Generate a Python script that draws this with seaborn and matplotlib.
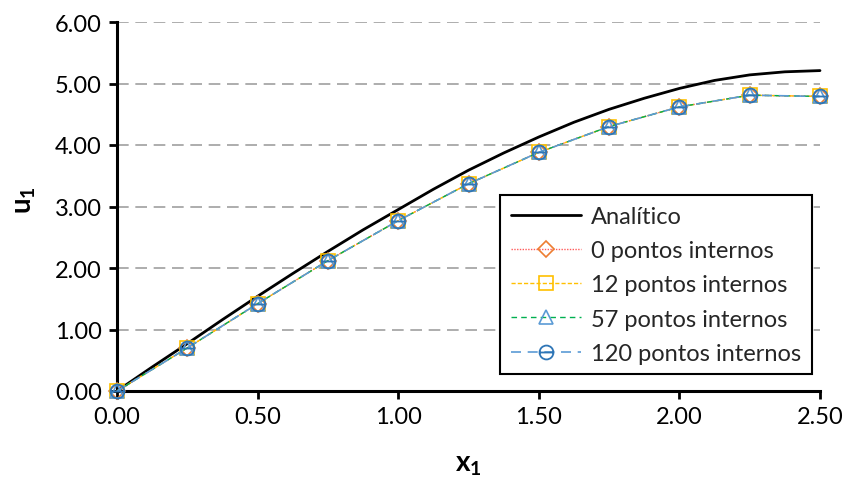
import numpy as np
import pandas as pd
import matplotlib
matplotlib.use("Agg")
import matplotlib.pyplot as plt
from matplotlib.path import Path
import seaborn as sns

# ---- data ----
x_analitico = [0.0, 0.125, 0.25, 0.375, 0.5, 0.625, 0.75, 0.875, 1.0, 1.125,
               1.25, 1.375, 1.5, 1.625, 1.75, 1.875, 2.0, 2.125, 2.25, 2.375, 2.5]
u_analitico = [0.0, 0.39, 0.77, 1.16, 1.54, 1.91, 2.27, 2.62, 2.95, 3.28,
               3.59, 3.87, 4.13, 4.37, 4.58, 4.76, 4.92, 5.05, 5.14, 5.19, 5.21]
x_vals = [0.0, 0.25, 0.5, 0.75, 1.0, 1.25, 1.5, 1.75, 2.0, 2.25, 2.5]
u_0 = [0.0, 0.70, 1.42, 2.12, 2.77, 3.37, 3.88, 4.30, 4.62, 4.81, 4.79]
u_12 = [0.0, 0.70, 1.42, 2.12, 2.77, 3.37, 3.88, 4.30, 4.62, 4.81, 4.79]
u_57 = [0.0, 0.70, 1.42, 2.12, 2.77, 3.37, 3.88, 4.30, 4.62, 4.81, 4.79]
u_120 = [0.0, 0.70, 1.42, 2.12, 2.77, 3.37, 3.88, 4.30, 4.62, 4.81, 4.79]
labels = ["Analítico", "0 pontos internos", "12 pontos internos",
          "57 pontos internos", "120 pontos internos"]
x_ticks = [0.0, 0.5, 1.0, 1.5, 2.0, 2.5]
y_ticks = [0, 1, 2, 3, 4, 5, 6]

sns.set_theme(style="white")
plt.rcParams["font.family"] = ["Lato", "DejaVu Sans"]
plt.rcParams["mathtext.fontset"] = "custom"
plt.rcParams["mathtext.rm"] = "Lato"
plt.rcParams["mathtext.bf"] = "Lato:bold"

fig = plt.figure(figsize=(8.45, 4.89), dpi=100)
ax = fig.add_axes([117/845, 97/489, 703/845, 369/489])

df_a = pd.DataFrame({"x": x_analitico, "a": u_analitico})
df = pd.DataFrame({"x": x_vals, "p0": u_0, "p12": u_12,
                   "p57": u_57, "p120": u_120})

# circle with horizontal bar marker
circ = Path.unit_circle()
bar = Path([[-1, 0], [1, 0]], [Path.MOVETO, Path.LINETO])
theta_marker = Path.make_compound_path(circ, bar)

sns.lineplot(data=df_a, x="x", y="a", ax=ax, color="black", lw=2.0,
             label=labels[0], clip_on=False, zorder=3)
sns.lineplot(data=df, x="x", y="p0", ax=ax, color="#FF5B5B", lw=1.0,
             linestyle=(0, (1, 1)), marker="D", markersize=8,
             markerfacecolor="none", markeredgecolor="#ED7D31",
             markeredgewidth=1.2, label=labels[1], clip_on=False, zorder=4)
sns.lineplot(data=df, x="x", y="p12", ax=ax, color="#FFC000", lw=1.0,
             linestyle=(0, (3, 1.5)), marker="s", markersize=10,
             markerfacecolor="none", markeredgecolor="#FFC000",
             markeredgewidth=1.2, label=labels[2], clip_on=False, zorder=4)
sns.lineplot(data=df, x="x", y="p57", ax=ax, color="#00B050", lw=1.0,
             linestyle=(0, (4, 3)), marker="^", markersize=10,
             markerfacecolor="none", markeredgecolor="#5B9BD5",
             markeredgewidth=1.2, label=labels[3], clip_on=False, zorder=4)
sns.lineplot(data=df, x="x", y="p120", ax=ax, color="#5B9BD5", lw=1.2,
             linestyle=(0, (6, 4)), marker=theta_marker, markersize=10,
             markerfacecolor="none", markeredgecolor="#2E75B6",
             markeredgewidth=1.3, label=labels[4], clip_on=False, zorder=5)

ax.set_xlim(0, 2.5)
ax.set_ylim(0, 6)
ax.set_xticks(x_ticks)
ax.set_yticks(y_ticks)
ax.set_xticklabels([f"{v:.2f}" for v in x_ticks])
ax.set_yticklabels([f"{v:.2f}" for v in y_ticks])
ax.tick_params(axis="both", labelsize=17, colors="black", direction="out",
               length=6, width=2, pad=5, bottom=True, left=True)

ax.yaxis.grid(True, color="#A0A0A0", linestyle=(0, (7, 4)), lw=1.2)
ax.xaxis.grid(False)
ax.set_axisbelow(True)

for s in ["top", "right"]:
    ax.spines[s].set_visible(False)
for s in ["left", "bottom"]:
    ax.spines[s].set_color("black")
    ax.spines[s].set_linewidth(2.2)

ax.set_xlabel(r"$\mathbf{x_1}$", fontsize=20, color="black")
ax.set_ylabel(r"$\mathbf{u_1}$", fontsize=20, color="black")
ax.xaxis.set_label_coords(0.5, -0.163)
ax.yaxis.set_label_coords(-0.112, 0.52)

leg = ax.legend(loc="lower right", bbox_to_anchor=(0.988, 0.045),
                fontsize=17, frameon=True, fancybox=False,
                edgecolor="black", framealpha=1, handlelength=3.0,
                handletextpad=0.4, borderpad=0.45, labelspacing=0.56,
                borderaxespad=0)
leg.get_frame().set_linewidth(1.5)

fig.savefig("out.png", dpi=100)
